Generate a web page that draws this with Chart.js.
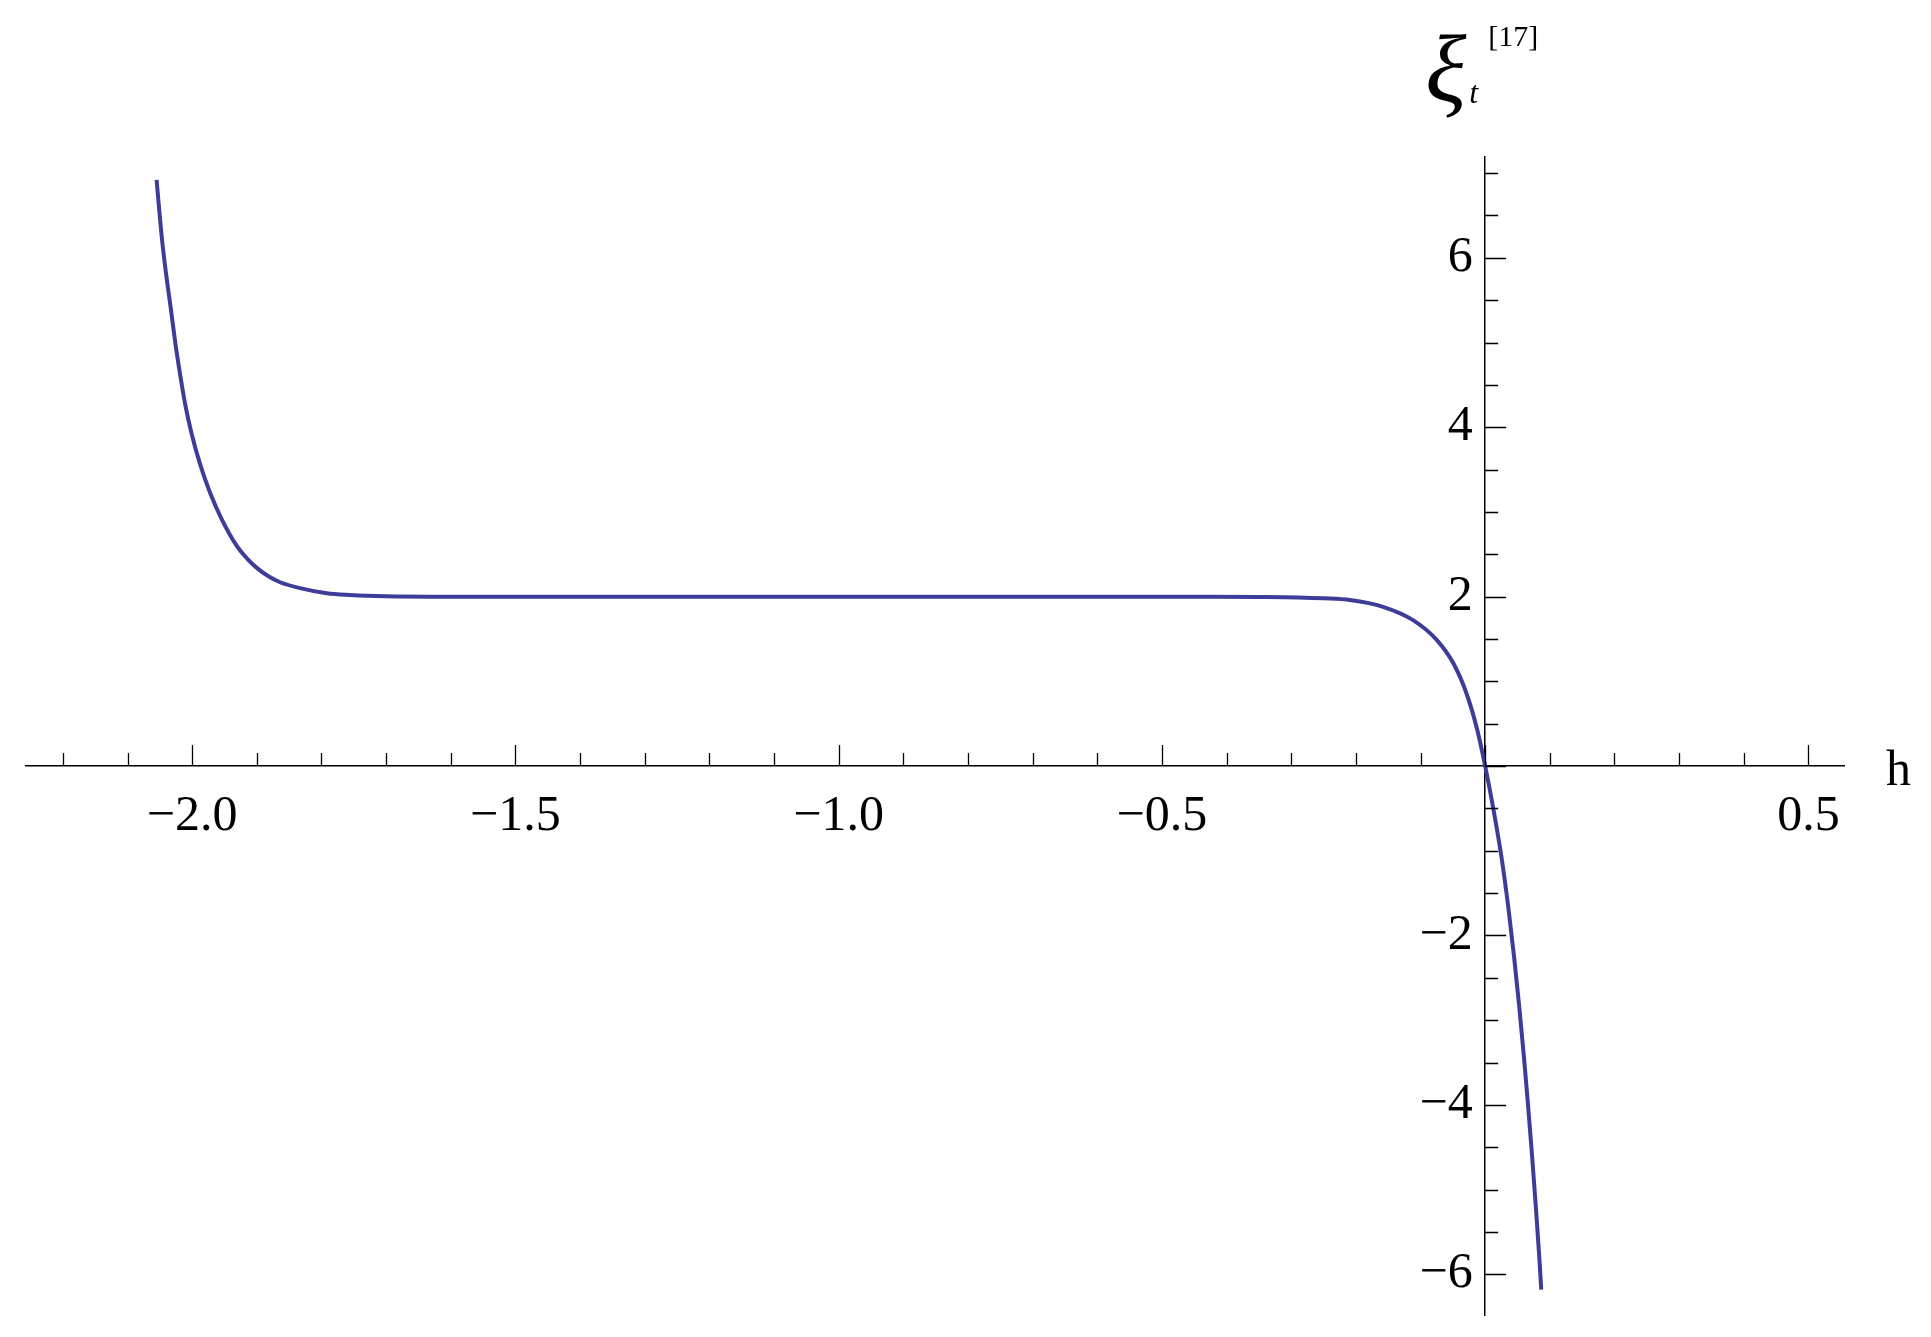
<!DOCTYPE html>
<html>
<head>
<meta charset="utf-8">
<script src="https://cdn.jsdelivr.net/npm/chart.js@4.4.1/dist/chart.umd.min.js"></script>
<style>
  html, body { margin: 0; padding: 0; background: #fff; }
  #wrap { width: 1931px; height: 1337px; }
</style>
</head>
<body>
<div id="wrap"><canvas id="plot" width="1931" height="1337"></canvas></div>
<script>
// values
const hValues = [
  -2.055, -2.051, -2.046, -2.040, -2.033, -2.026, -2.019, -2.011, -2.001, -1.988,
  -1.972, -1.954, -1.931, -1.915, -1.900, -1.882, -1.864, -1.833, -1.792, -1.756,
  -1.70, -1.60, -1.40, -1.20, -1.00, -0.80, -0.60, -0.45, -0.35, -0.29,
  -0.25, -0.209, -0.158, -0.111, -0.075, -0.049, -0.029, -0.013, 0.000, 0.0125,
  0.0253, 0.0358, 0.0448, 0.0528, 0.0600, 0.0666, 0.0727, 0.0784, 0.0837, 0.0867
];
const xiValues = [
  6.92, 6.57, 6.17, 5.79, 5.40, 4.99, 4.64, 4.28, 3.93, 3.57,
  3.22, 2.91, 2.60, 2.45, 2.34, 2.24, 2.17, 2.10, 2.04, 2.02,
  2.005, 2.0, 2.0, 2.0, 2.0, 2.0, 2.0, 1.998, 1.995, 1.99,
  1.98, 1.96, 1.88, 1.72, 1.49, 1.21, 0.86, 0.45, 0.0, -0.50,
  -1.08, -1.67, -2.26, -2.85, -3.44, -4.03, -4.62, -5.21, -5.80, -6.18
];
const xRange = [-2.257, 0.555];
const yRange = [-6.48, 7.19];
const xLabelTicks = [-2.0, -1.5, -1.0, -0.5, 0.5];
const yLabelTicks = [-6, -4, -2, 2, 4, 6];

const lineColor = "#3d3d99";
const serif = "'Liberation Serif', 'Times New Roman', serif";

function near(v, step) {
  return Math.abs(v / step - Math.round(v / step)) < 1e-6;
}
function signed(v, digits) {
  return (v < 0 ? "\u2212" : "") + Math.abs(v).toFixed(digits);
}
function isIn(list, v) {
  return list.some((t) => Math.abs(t - v) < 1e-6);
}
function noEdgePadding(scale) {
  scale.paddingTop = 0;
  scale.paddingBottom = 0;
  scale.paddingLeft = 0;
  scale.paddingRight = 0;
}

// tick marks point into the plot (up / right), plus axis names
const axisDecor = {
  id: "axisDecor",
  afterDraw(chart) {
    const { ctx } = chart;
    const { x, y } = chart.scales;
    const x0 = x.getPixelForValue(0);
    const y0 = y.getPixelForValue(0);
    ctx.save();
    ctx.strokeStyle = "#000";
    ctx.lineWidth = 1.3;
    ctx.beginPath();
    x.ticks.forEach((t) => {
      if (!near(t.value, 0.1)) return;
      const px = Math.round(x.getPixelForValue(t.value)) + 0.5;
      const len = near(t.value, 0.5) ? 21 : 13;
      ctx.moveTo(px, y0);
      ctx.lineTo(px, y0 - len);
    });
    y.ticks.forEach((t) => {
      if (!near(t.value, 0.5)) return;
      const py = Math.round(y.getPixelForValue(t.value)) + 0.5;
      const len = near(t.value, 2) ? 21 : 13;
      ctx.moveTo(x0, py);
      ctx.lineTo(x0 + len, py);
    });
    ctx.stroke();

    ctx.fillStyle = "#000";
    ctx.textAlign = "left";
    ctx.textBaseline = "alphabetic";
    ctx.font = `50px ${serif}`;
    ctx.fillText("h", x.right + 42, y0 + 19);

    ctx.font = `italic 96px ${serif}`;
    ctx.fillText("\u03BE", x0 - 60, y.top - 56);
    ctx.font = `italic 32px ${serif}`;
    ctx.fillText("t", x0 - 16, y.top - 54);
    ctx.font = `30px ${serif}`;
    ctx.fillText("[17]", x0 + 3, y.top - 111);
    ctx.restore();
  },
};

new Chart(document.getElementById("plot"), {
  type: "scatter",
  data: {
    datasets: [
      {
        data: hValues.map((h, i) => ({ x: h, y: xiValues[i] })),
        showLine: true,
        borderColor: lineColor,
        borderWidth: 4,
        pointRadius: 0,
        cubicInterpolationMode: "monotone",
        fill: false,
      },
    ],
  },
  options: {
    responsive: false,
    animation: false,
    layout: { padding: { left: 26, right: 87, top: 157, bottom: 22 } },
    plugins: {
      legend: { display: false },
      tooltip: { enabled: false },
    },
    scales: {
      x: {
        type: "linear",
        position: { y: 0 },
        min: xRange[0],
        max: xRange[1],
        afterFit: noEdgePadding,
        grid: { display: false },
        border: { display: true, color: "#000", width: 1.5 },
        ticks: {
          stepSize: 0.1,
          includeBounds: false,
          autoSkip: false,
          maxRotation: 0,
          padding: 13,
          color: "#000",
          font: { family: serif, size: 50 },
          callback: (v) => (isIn(xLabelTicks, v) ? signed(v, 1) : ""),
        },
      },
      y: {
        type: "linear",
        position: { x: 0 },
        min: yRange[0],
        max: yRange[1],
        afterFit: noEdgePadding,
        grid: { display: false },
        border: { display: true, color: "#000", width: 1.5 },
        ticks: {
          stepSize: 0.5,
          includeBounds: false,
          autoSkip: false,
          color: "#000",
          font: { family: serif, size: 50 },
          callback: (v) => (isIn(yLabelTicks, v) ? signed(v, 0) + " " : ""),
        },
      },
    },
  },
  plugins: [axisDecor],
});
</script>
</body>
</html>
